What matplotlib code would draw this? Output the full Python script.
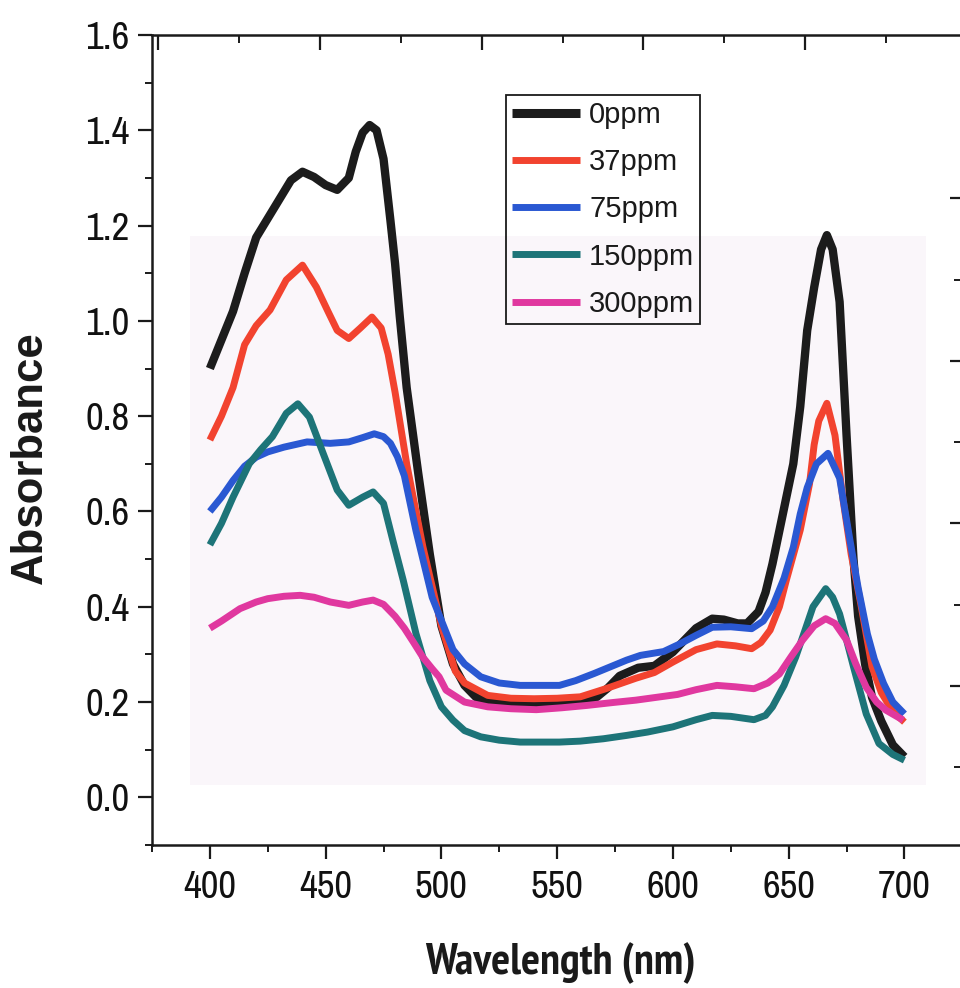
import numpy as np
import matplotlib
matplotlib.use("Agg")
import matplotlib.pyplot as plt
from matplotlib.patches import Rectangle
from matplotlib.ticker import MultipleLocator, FixedLocator, NullFormatter
from matplotlib import font_manager as fm

# ---------------- data ----------------
wl_0 = [400, 405, 410, 415, 420, 425, 430, 435, 440, 445, 450, 455, 460, 463, 466, 469,
        472, 475, 478, 480, 482, 485, 490, 495, 500, 505, 510, 515, 520, 530, 540, 550,
        560, 567, 572, 577, 585, 592, 600, 605, 610, 617, 622, 628, 632, 637, 640, 643,
        646, 649, 652, 655, 658, 661, 664, 666.5, 669, 672, 675, 678, 680, 683, 686, 690,
        695, 700]
abs_0 = [0.90, 0.96, 1.02, 1.10, 1.175, 1.215, 1.255, 1.295, 1.313, 1.302, 1.285, 1.275,
         1.30, 1.355, 1.395, 1.411, 1.40, 1.34, 1.21, 1.12, 1.01, 0.86, 0.68, 0.51, 0.36,
         0.28, 0.235, 0.21, 0.20, 0.196, 0.196, 0.196, 0.20, 0.21, 0.23, 0.255, 0.272,
         0.276, 0.305, 0.33, 0.355, 0.375, 0.373, 0.365, 0.365, 0.39, 0.43, 0.49, 0.56,
         0.63, 0.70, 0.82, 0.98, 1.07, 1.15, 1.18, 1.15, 1.04, 0.76, 0.50, 0.38, 0.28,
         0.21, 0.16, 0.11, 0.085]

wl_37 = [400, 405, 410, 415, 420, 426, 433, 440, 446, 451, 455, 460, 465, 470, 474, 477,
         480, 485, 492, 500, 506, 510, 520, 530, 540, 550, 560, 571, 584, 592, 600, 610,
         619, 627, 634, 638, 642, 646, 649, 655, 659, 661, 663, 666.5, 670, 673.5, 677,
         681, 686, 690, 695, 700]
abs_37 = [0.75, 0.80, 0.86, 0.95, 0.99, 1.023, 1.086, 1.117, 1.071, 1.02, 0.98, 0.963,
          0.985, 1.008, 0.985, 0.93, 0.85, 0.70, 0.526, 0.36, 0.265, 0.24, 0.214, 0.208,
          0.207, 0.208, 0.211, 0.228, 0.25, 0.262, 0.284, 0.31, 0.322, 0.318, 0.312, 0.325,
          0.351, 0.40, 0.456, 0.561, 0.658, 0.74, 0.79, 0.827, 0.76, 0.624, 0.51, 0.41,
          0.274, 0.22, 0.18, 0.158]

wl_75 = [400, 405, 410, 415, 420, 425, 432, 442, 452, 460, 466, 471, 475, 478, 481, 484,
         489, 496, 505, 510, 517, 525, 534, 551, 558, 566, 580, 586, 596, 603, 610, 617,
         625, 634, 639, 643, 648, 652, 655, 658, 662, 667, 672, 676, 680, 684, 687, 691,
         695, 700]
abs_75 = [0.60, 0.63, 0.665, 0.695, 0.714, 0.725, 0.735, 0.746, 0.743, 0.746, 0.755, 0.763,
          0.757, 0.743, 0.715, 0.675, 0.56, 0.42, 0.31, 0.28, 0.253, 0.24, 0.235, 0.235,
          0.245, 0.26, 0.288, 0.298, 0.306, 0.322, 0.34, 0.357, 0.358, 0.354, 0.37, 0.40,
          0.46, 0.525, 0.595, 0.65, 0.70, 0.722, 0.67, 0.553, 0.44, 0.343, 0.29, 0.239,
          0.20, 0.175]

wl_150 = [400, 405, 410, 417, 422, 427, 433, 438, 443, 449, 455, 460, 466, 470.5, 475, 479,
          483.5, 489, 495, 500, 505, 510, 517, 525, 534, 551, 560, 570, 580, 589, 600, 610,
          617, 625, 635, 640, 643, 648, 653, 657, 660.5, 666, 669, 672, 675, 678, 683.5,
          689, 695, 700]
abs_150 = [0.53, 0.575, 0.63, 0.70, 0.73, 0.757, 0.806, 0.826, 0.798, 0.721, 0.645, 0.613,
           0.63, 0.641, 0.617, 0.54, 0.456, 0.344, 0.245, 0.19, 0.162, 0.14, 0.127, 0.12,
           0.116, 0.116, 0.118, 0.123, 0.13, 0.137, 0.148, 0.163, 0.172, 0.17, 0.163, 0.172,
           0.19, 0.235, 0.294, 0.35, 0.40, 0.438, 0.42, 0.385, 0.33, 0.274, 0.175, 0.113,
           0.09, 0.078]

wl_300 = [400, 405, 413, 420, 425, 432, 439, 445, 452, 460, 466, 470.5, 475, 480, 484, 488,
          492, 496, 499, 502, 510, 520, 530, 541, 552, 563, 574, 584, 593, 602, 610, 619,
          627, 635, 641, 646, 651, 656, 661, 666, 670, 675, 679, 683.5, 688, 692, 699.5]
abs_300 = [0.355, 0.37, 0.396, 0.41, 0.417, 0.422, 0.424, 0.42, 0.41, 0.403, 0.41, 0.414,
           0.405, 0.38, 0.355, 0.325, 0.294, 0.27, 0.253, 0.225, 0.20, 0.19, 0.186, 0.184,
           0.188, 0.193, 0.199, 0.204, 0.21, 0.216, 0.226, 0.235, 0.232, 0.228, 0.24, 0.259,
           0.295, 0.33, 0.36, 0.375, 0.365, 0.33, 0.28, 0.231, 0.2, 0.183, 0.162]

labels = ["0ppm", "37ppm", "75ppm", "150ppm", "300ppm"]
colors = ["#1c1c1c", "#f2432f", "#2a58d2", "#1d7478", "#e0389f"]
x_ticks = [400, 450, 500, 550, 600, 650, 700]
y_ticks = [0.0, 0.2, 0.4, 0.6, 0.8, 1.0, 1.2, 1.4, 1.6]

series = [(wl_0, abs_0), (wl_37, abs_37), (wl_75, abs_75), (wl_150, abs_150), (wl_300, abs_300)]

# ---------------- fonts ----------------
def _w(f):
    w = f.weight
    if isinstance(w, str):
        return {"bold": 700, "heavy": 800, "black": 900, "extra bold": 800,
                "semibold": 600, "demibold": 600}.get(w.lower(), 400)
    return int(w)

entries = fm.fontManager.ttflist
narrow_candidates = ["Liberation Sans Narrow", "Arial Narrow", "Archivo Narrow",
                     "PT Sans Narrow", "Roboto Condensed", "Pragati Narrow",
                     "Encode Sans Condensed", "Open Sans Condensed"]
installed = {f.name for f in entries}
narrow = [n for n in narrow_candidates if n in installed]
narrow_font = narrow[0] if narrow else "Liberation Sans"
tick_font = [narrow_font, "Liberation Sans", "DejaVu Sans"]
reg_font = ["Liberation Sans", "DejaVu Sans"]

bold_candidates = ["Liberation Sans Narrow", "Arial Narrow", "PT Sans Narrow",
                   "Roboto Condensed", "Archivo Narrow", "Encode Sans Condensed",
                   "Barlow Condensed", "Pragati Narrow", "Oswald"]
bold_narrow = None
for n in bold_candidates:
    if any(f.name == n and _w(f) >= 700 and f.style == "normal" for f in entries):
        bold_narrow = n
        break
xlab_font = [bold_narrow or "Liberation Sans", "Liberation Sans", "DejaVu Sans"]
xlab_size = 32 if bold_narrow else 25

# ---------------- figure ----------------
W, H = 960, 988
fig = plt.figure(figsize=(W / 100, H / 100), dpi=100)
fig.patch.set_facecolor("white")

# faint pink backdrop of the scanned image
fig.add_artist(Rectangle((190 / W, 1 - 785 / H), (926 - 190) / W, (785 - 236) / H,
                         transform=fig.transFigure, facecolor="#faf6fa",
                         edgecolor="none", zorder=-5))

ax_l, ax_r, ax_b, ax_t = 152, 960, 845, 35
ax = fig.add_axes([ax_l / W, 1 - ax_b / H, (ax_r - ax_l) / W, (ax_b - ax_t) / H])
ax.patch.set_alpha(0)

lw = [6.0, 5.0, 5.0, 5.0, 5.0]
for (xs, ys), lab, c, w in zip(series, labels, colors, lw):
    ax.plot(xs, ys, color=c, lw=w, label=lab, solid_joinstyle="round",
            solid_capstyle="butt")

ax.set_xlim(375, 724)
ax.set_ylim(-0.1, 1.6)
ax.set_xticks(x_ticks)
ax.set_yticks(y_ticks)
ax.set_yticklabels([f"{v:.1f}" for v in y_ticks])
ax.xaxis.set_minor_locator(MultipleLocator(25))
ax.yaxis.set_minor_locator(MultipleLocator(0.1))

for lbl in ax.get_xticklabels() + ax.get_yticklabels():
    lbl.set_fontfamily(tick_font)
    lbl.set_fontsize(28)
    lbl.set_fontweight("medium")
    lbl.set_color("#111111")

ax.tick_params(axis="both", which="major", direction="out", length=10, width=1.6,
               color="#1a1a1a")
ax.tick_params(axis="both", which="minor", direction="out", length=5, width=1.4,
               color="#1a1a1a")
ax.tick_params(axis="x", which="major", pad=8)
ax.tick_params(axis="y", which="major", pad=6)
ax.tick_params(top=False, right=False, which="both")

for s in ["left", "bottom", "top"]:
    ax.spines[s].set_linewidth(1.8)
    ax.spines[s].set_color("#1a1a1a")
ax.spines["right"].set_visible(False)

# stray tick marks along the top and right edges (from an overlaid frame)
ax_w_px = ax_r - ax_l
ax_h_px = ax_b - ax_t
axt = ax.twiny()
axt.set_xlim(0, ax_w_px)
axt.xaxis.set_major_locator(FixedLocator(np.arange(6.3, ax_w_px, 161.7)))
axt.xaxis.set_minor_locator(FixedLocator(np.arange(6.3 + 80.85, ax_w_px, 161.7)))
axt.xaxis.set_major_formatter(NullFormatter())
axt.tick_params(axis="x", which="major", direction="in", length=11, width=1.6,
                color="#1a1a1a")
axt.tick_params(axis="x", which="minor", direction="in", length=6, width=1.4,
                color="#1a1a1a")
for s in axt.spines.values():
    s.set_visible(False)
axt.patch.set_alpha(0)

axr = ax.twinx()
axr.set_ylim(0, ax_h_px)
axr.yaxis.set_major_locator(FixedLocator(np.arange(159.5, 700, 162.5)))
axr.yaxis.set_minor_locator(FixedLocator(np.arange(78, 700, 162.5)))
axr.yaxis.set_major_formatter(NullFormatter())
axr.tick_params(axis="y", which="major", direction="in", length=7, width=1.6,
                color="#1a1a1a")
axr.tick_params(axis="y", which="minor", direction="in", length=4, width=1.4,
                color="#1a1a1a")
for s in axr.spines.values():
    s.set_visible(False)
axr.patch.set_alpha(0)

# axis titles
fig.text(30 / W, 1 - 458 / H, "Absorbance", rotation=90, ha="center", va="center",
         fontsize=31.5, fontweight="bold", family=reg_font, color="#1a1a1a")
fig.text(560 / W, 1 - 963 / H, "Wavelength (nm)", ha="center", va="center",
         fontsize=xlab_size, fontweight="bold", family=xlab_font, color="#1a1a1a")

# legend
handles, labs = ax.get_legend_handles_labels()
leg = axr.legend(handles, labs, loc="upper left",
                 bbox_to_anchor=(506 / W, 1 - 95 / H), bbox_transform=fig.transFigure,
                 frameon=True, fancybox=False, framealpha=1, edgecolor="#1a1a1a",
                 prop={"family": reg_font, "size": 21},
                 handlelength=2.35, handletextpad=0.3, labelspacing=0.66,
                 borderpad=0.2, borderaxespad=0)
leg.get_frame().set_linewidth(1.3)
leg.get_frame().set_facecolor("none")
for line in leg.get_lines():
    line.set_linewidth(5)
leg.get_lines()[0].set_linewidth(6.5)
for t in leg.get_texts():
    t.set_color("#1a1a1a")

fig.savefig("out.png", dpi=100, facecolor="white")
